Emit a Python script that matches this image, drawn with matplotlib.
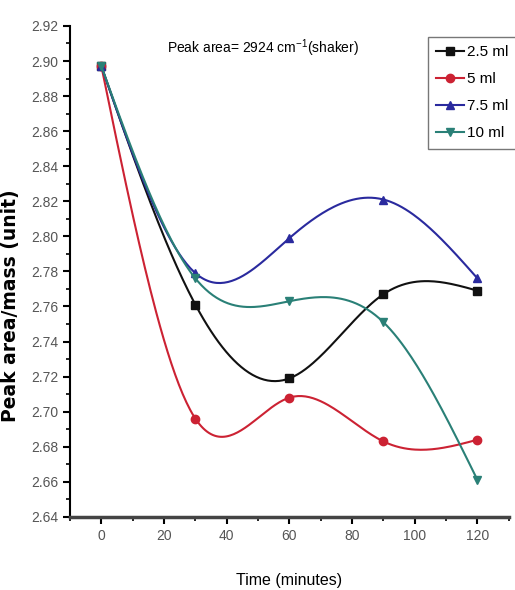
import numpy as np
import matplotlib.pyplot as plt
from matplotlib.ticker import MultipleLocator

# Sampling times and measured peak area / mass for each solvent volume
time_min = [0, 30, 60, 90, 120]
vol_2_5 = [2.897, 2.761, 2.719, 2.767, 2.769]
vol_5 = [2.897, 2.696, 2.708, 2.683, 2.684]
vol_7_5 = [2.897, 2.779, 2.799, 2.821, 2.776]
vol_10 = [2.897, 2.776, 2.763, 2.751, 2.661]
labels = ['2.5 ml', '5 ml', '7.5 ml', '10 ml']

plt.rcParams['font.family'] = ['Liberation Sans', 'DejaVu Sans']
plt.rcParams['mathtext.fontset'] = 'custom'
plt.rcParams['mathtext.rm'] = 'Liberation Sans'
plt.rcParams['mathtext.it'] = 'Liberation Sans:italic'


def natural_spline(x, y, n=200):
    # natural cubic spline through the measured points (smooth connector)
    x = np.asarray(x, float)
    y = np.asarray(y, float)
    k = len(x)
    h = np.diff(x)
    A = np.zeros((k, k))
    b = np.zeros(k)
    A[0, 0] = A[-1, -1] = 1
    for i in range(1, k - 1):
        A[i, i - 1] = h[i - 1]
        A[i, i] = 2 * (h[i - 1] + h[i])
        A[i, i + 1] = h[i]
        b[i] = 6 * ((y[i + 1] - y[i]) / h[i] - (y[i] - y[i - 1]) / h[i - 1])
    M = np.linalg.solve(A, b)
    xs = np.linspace(x[0], x[-1], n)
    idx = np.clip(np.searchsorted(x, xs) - 1, 0, k - 2)
    x0, x1 = x[idx], x[idx + 1]
    hh = x1 - x0
    t0, t1 = x1 - xs, xs - x0
    ys = (M[idx] * t0**3 / (6 * hh) + M[idx + 1] * t1**3 / (6 * hh)
          + (y[idx] / hh - M[idx] * hh / 6) * t0
          + (y[idx + 1] / hh - M[idx + 1] * hh / 6) * t1)
    return xs, ys


fig = plt.figure(figsize=(5.15, 5.9), dpi=100)
ax = fig.add_axes([0.136, 0.124, 0.852, 0.832])

series = [
    (vol_2_5, '#111111', 's'),
    (vol_5, '#cc2233', 'o'),
    (vol_7_5, '#2a2a9e', '^'),
    (vol_10, '#2a8077', 'v'),
]
for (vals, color, marker), lab in zip(series, labels):
    xs, ys = natural_spline(time_min, vals)
    ax.plot(xs, ys, color=color, lw=1.5)
    ax.plot(time_min, vals, ls='none', marker=marker, color=color, ms=6)
    ax.plot([], [], color=color, lw=1.5, marker=marker, ms=6, label=lab)

ax.set_xlim(-10, 130)
ax.set_ylim(2.64, 2.92)
ax.xaxis.set_major_locator(MultipleLocator(20))
ax.xaxis.set_minor_locator(MultipleLocator(10))
ax.yaxis.set_major_locator(MultipleLocator(0.02))
ax.yaxis.set_minor_locator(MultipleLocator(0.01))
ax.yaxis.set_major_formatter(plt.FormatStrFormatter('%.2f'))

ax.spines['top'].set_visible(False)
ax.spines['right'].set_visible(False)
ax.spines['left'].set_linewidth(1.5)
ax.spines['bottom'].set_linewidth(2.5)
ax.spines['bottom'].set_color('#444444')
ax.tick_params(which='major', direction='out', length=5, width=1.5,
               labelsize=10, labelcolor='#555555')
ax.tick_params(which='minor', direction='out', length=3, width=1.2)

ax.set_xlabel('Time (minutes)', fontsize=11.5, labelpad=22)
ax.set_ylabel('Peak area/mass (unit)', fontsize=13.5, fontweight='bold',
              family='DejaVu Sans')
ax.yaxis.set_label_coords(-0.115, 0.43)
ax.text(0.44, 0.955, 'Peak area= 2924 cm$^{-1}$(shaker)', transform=ax.transAxes,
        ha='center', va='center', fontsize=10)

leg = fig.legend(loc='upper left', bbox_to_anchor=(428 / 515, 1 - 37 / 590),
                 fontsize=11, frameon=True, fancybox=False, edgecolor='#555555',
                 handlelength=1.8, handletextpad=0.2, labelspacing=0.85,
                 borderpad=0.55, borderaxespad=0)
leg.get_frame().set_linewidth(1.0)

fig.savefig('out.png', dpi=100)
